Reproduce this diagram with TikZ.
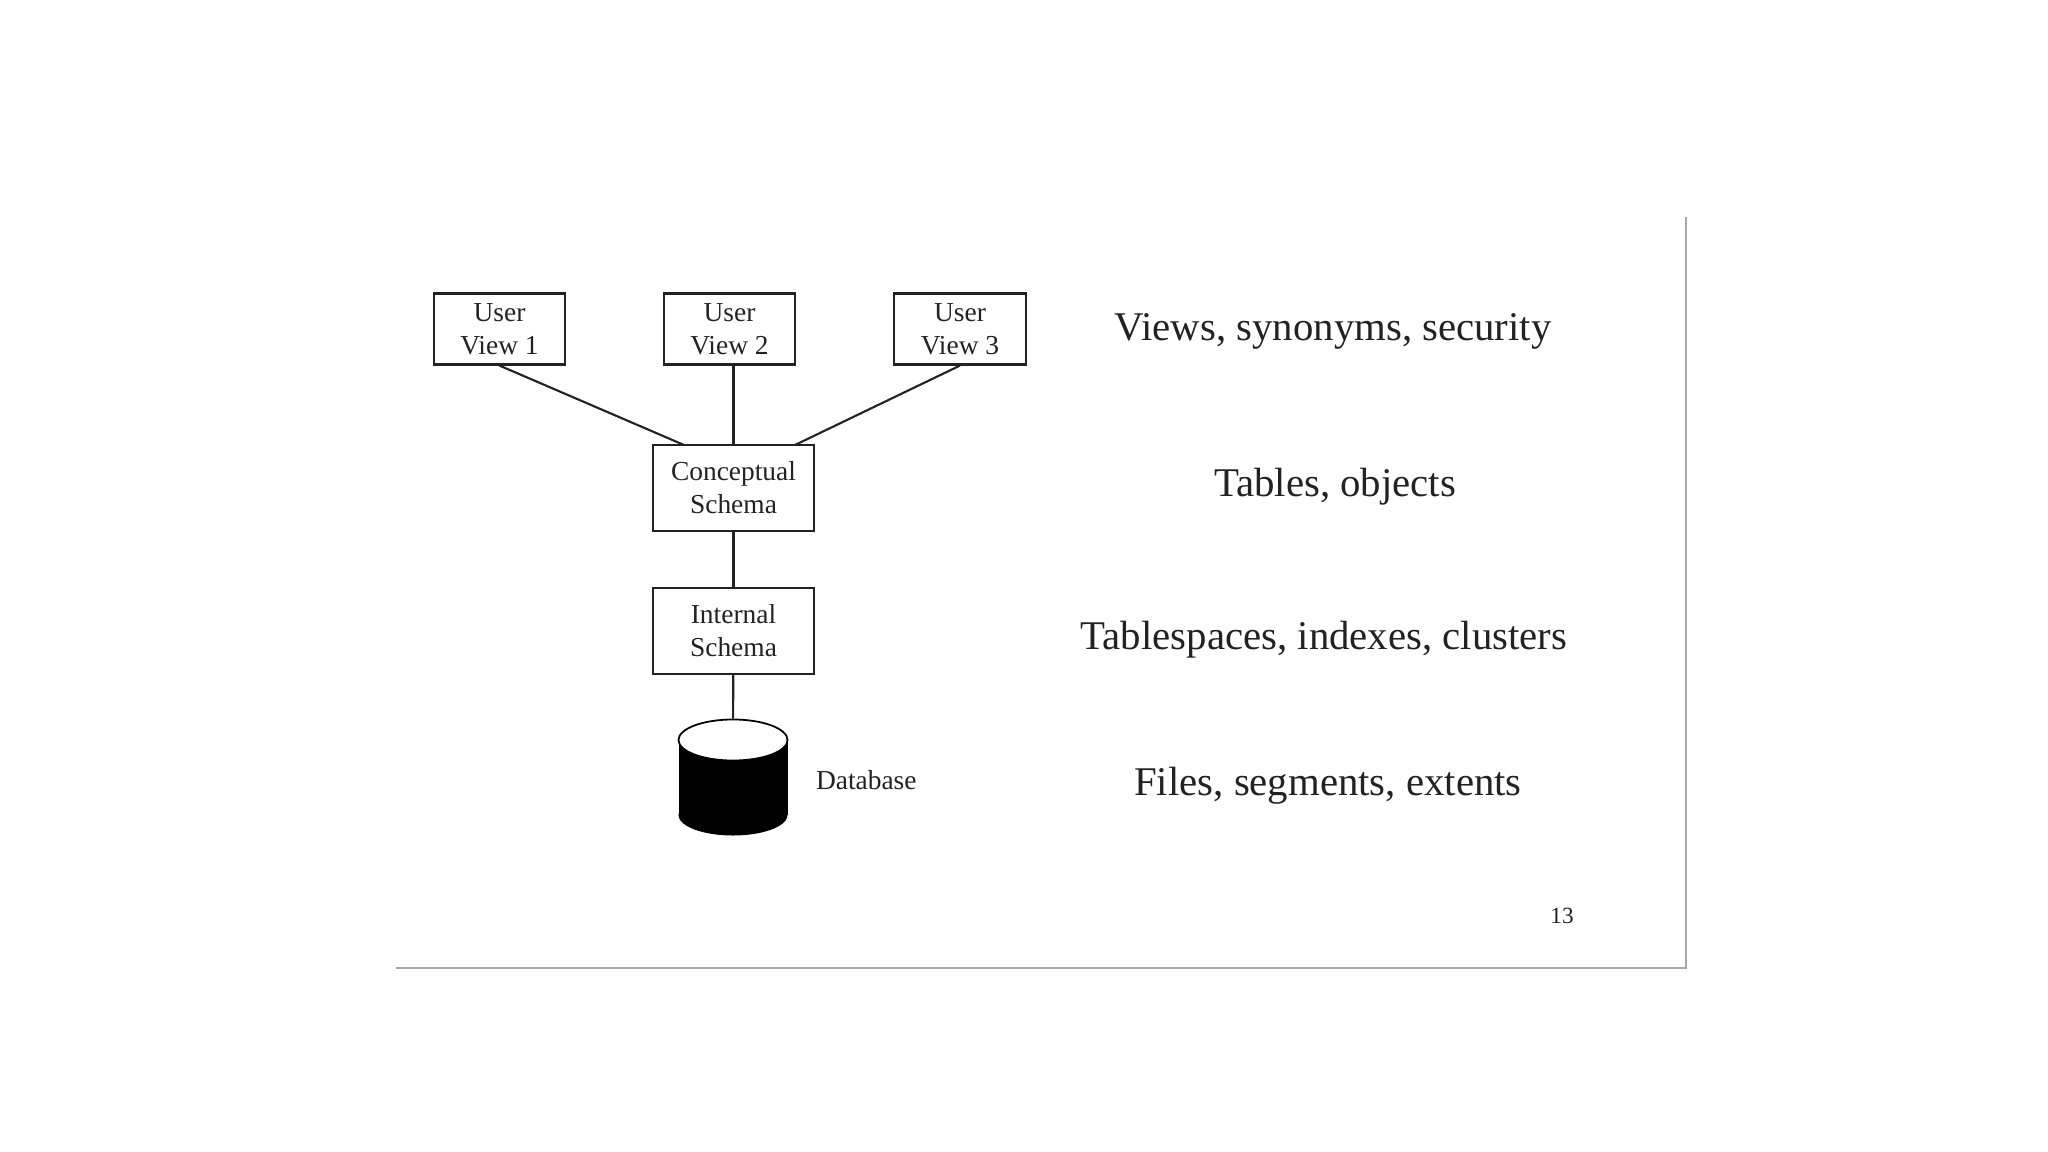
\documentclass[tikz,border=0pt]{standalone}
\usepackage{fontspec}
\setmainfont{Liberation Serif}
\usetikzlibrary{shapes.geometric}
\definecolor{framegray}{HTML}{A8A8A8}
\definecolor{inkgray}{HTML}{222222}
\begin{document}
\begin{tikzpicture}[x=0.01cm,y=-0.01cm,
    schemabox/.style={draw=inkgray, line width=0.6pt, align=center, text=inkgray, font=\fontsize{7.8}{9.4}\selectfont, inner sep=0pt},
    viewbox/.style={schemabox, minimum width=37.3pt, minimum height=20.2pt},
    levelbox/.style={schemabox, minimum width=45.8pt, minimum height=24.4pt},
    level/.style={text=inkgray, font=\fontsize{11.6}{13}\selectfont, inner sep=0pt},
    drum/.style={ellipse, minimum width=1.09cm, minimum height=0.41cm, inner sep=0pt},
    link/.style={draw=inkgray, line width=0.6pt}]
  \useasboundingbox (0,0) rectangle (2048,1152);
  % user views
  \node[viewbox] (view1) at (499.5,329) {User\\View 1};
  \node[viewbox] (view2) at (729.5,329) {User\\View 2};
  \node[viewbox] (view3) at (960,329) {User\\View 3};
  % schemas
  \node[levelbox] (concept) at (733.5,488) {Conceptual\\Schema};
  \node[levelbox] (internal) at (733.5,631) {Internal\\Schema};
  % database drum
  \fill[black] (678.5,740) rectangle (787.5,815);
  \node[drum, fill=black] (dbbase) at (733,815) {};
  \node[drum, fill=white, draw=black, line width=0.5pt] (dbtop) at (733,740) {};
  \node[schemabox, draw=none, anchor=west] (dblabel) at (815,780) {Database};
  \coordinate (concept1) at (684,445);
  \coordinate (concept3) at (795,445);
  \draw[link] (view1.south) -- (concept1);
  \draw[link] (view2.south -| concept.north) -- (concept.north);
  \draw[link] (view3.south) -- (concept3);
  \draw[link] (concept) -- (internal);
  \draw[link] (internal) -- (dbtop);
  % what each level holds
  \node[level] (views) at (1333,331) {Views, synonyms, security};
  \node[level] (tables) at (1335,487) {Tables, objects};
  \node[level] (spaces) at (1324,640) {Tablespaces, indexes, clusters};
  \node[level] (files) at (1328,786) {Files, segments, extents};
  % slide edge
  \node[schemabox, draw=none, font=\fontsize{6.6}{8}\selectfont] (page) at (1562,916) {13};
  \coordinate (edgetop) at (1686,217);
  \coordinate (edgecorner) at (1686,968);
  \coordinate (edgeleft) at (396,968);
  \draw[framegray, line width=0.55pt] (edgetop) -- (edgecorner) -- (edgeleft);
\end{tikzpicture}
\end{document}
